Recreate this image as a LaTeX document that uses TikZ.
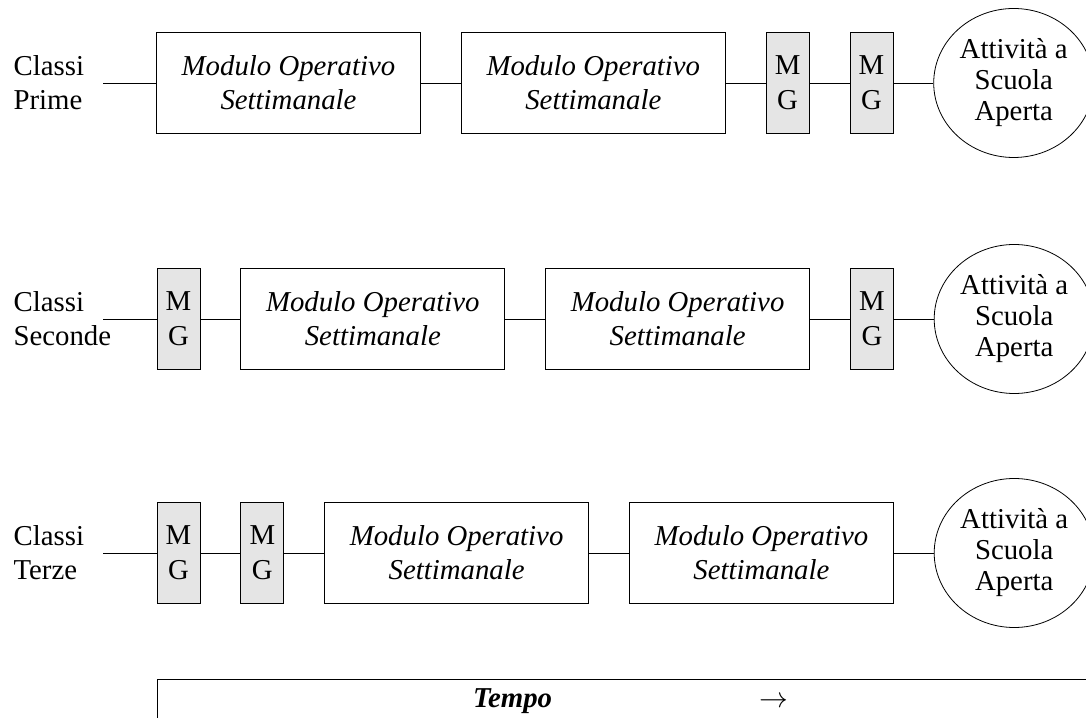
\documentclass[tikz,border=0pt]{standalone}
\usepackage{fontspec}
\setmainfont{Liberation Serif}
\usetikzlibrary{positioning,shapes.geometric}

\begin{document}
\begin{tikzpicture}[x=0.5pt,y=0.5pt,node distance=20pt,semithick,
  font=\fontsize{14.4}{17}\selectfont]
  \tikzstyle{classe}=[inner sep=0pt,text width=44.5pt,align=left,anchor=west]
  \tikzstyle{modulo}=[draw,thin,minimum width=132pt,minimum height=50.5pt,align=center,
    font=\fontsize{14.4}{17}\selectfont\itshape]
  \tikzstyle{mg}=[draw,thin,fill=gray!20,minimum width=21.5pt,minimum height=50.5pt,
    inner sep=0pt,align=center,font=\fontsize{14.4}{17.5}\selectfont]
  \tikzstyle{asa}=[draw,thin,ellipse,minimum width=80pt,minimum height=74.5pt,
    inner sep=0pt,align=center,font=\fontsize{14.4}{15.5}\selectfont]
  \useasboundingbox (0,0) rectangle (1086,717);

  % classi prime
  \node [classe] (P) at (13,634) {Classi\\Prime};
  \node [modulo] (P1) at (288.5,634) {Modulo Operativo\\Settimanale};
  \node [modulo] (P2) [right=of P1] {Modulo Operativo\\Settimanale};
  \node [mg] (P3) [right=of P2] {M\\G};
  \node [mg] (P4) [right=of P3] {M\\G};
  \node [asa] (P5) [right=of P4] {Attività a\\Scuola\\Aperta};

  % classi seconde
  \node [classe] (S) at (13,398) {Classi\\Seconde};
  \node [mg] (S1) at (178.5,398) {M\\G};
  \node [modulo] (S2) [right=of S1] {Modulo Operativo\\Settimanale};
  \node [modulo] (S3) [right=of S2] {Modulo Operativo\\Settimanale};
  \node [mg] (S4) [right=of S3] {M\\G};
  \node [asa] (S5) [right=of S4] {Attività a\\Scuola\\Aperta};

  % classi terze
  \node [classe] (T) at (13,164) {Classi\\Terze};
  \node [mg] (T1) at (178.5,164) {M\\G};
  \node [mg] (T2) [right=of T1] {M\\G};
  \node [modulo] (T3) [right=of T2] {Modulo Operativo\\Settimanale};
  \node [modulo] (T4) [right=of T3] {Modulo Operativo\\Settimanale};
  \node [asa] (T5) [right=of T4] {Attività a\\Scuola\\Aperta};

  \path [draw,thin] (P) edge (P1) (P1) edge (P2) (P2) edge (P3)
        (P3) edge (P4) (P4) edge (P5)
        (S) edge (S1) (S1) edge (S2) (S2) edge (S3)
        (S3) edge (S4) (S4) edge (S5)
        (T) edge (T1) (T1) edge (T2) (T2) edge (T3)
        (T3) edge (T4) (T4) edge (T5);

  % asse del tempo
  \node [draw,thin,anchor=north,minimum width=473.5pt,inner ysep=4.5pt,text depth=30pt]
    (tempo) at (630.5,38) {\textbf{\textit{Tempo}}\hspace{103.5pt}$\rightarrow$};
\end{tikzpicture}
\end{document}
